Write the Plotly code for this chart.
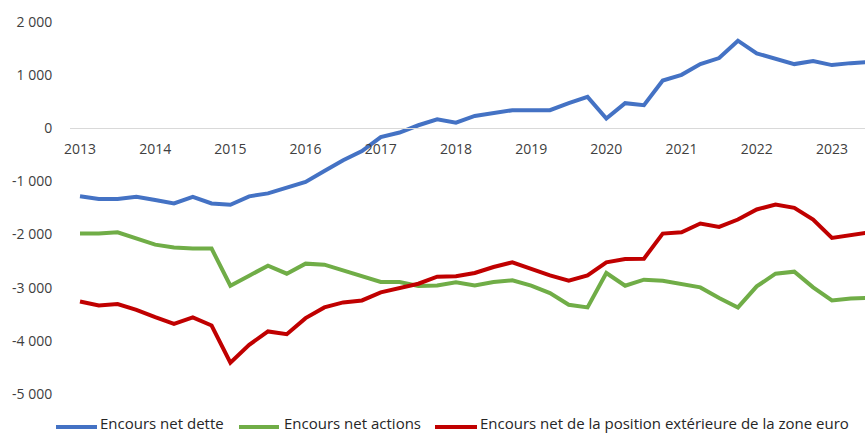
import plotly.graph_objects as go

# ---- data ----
years = [str(y) for y in range(2013, 2024)]
quarters = [f"{y}T{q}" for y in range(2013, 2024) for q in range(1, 5)][:43]

series_names = [
    "Encours net dette",
    "Encours net actions",
    "Encours net de la position extérieure de la zone euro",
]

dette = [-1280, -1330, -1330, -1290, -1350, -1415, -1290, -1415, -1440, -1280,
         -1225, -1120, -1010, -805, -600, -430, -165, -80, 57, 170,
         107, 232, 277, 340, 340, 340, 472, 590, 183, 472,
         434, 900, 1006, 1208, 1321, 1648, 1409, 1315, 1208, 1264,
         1189, 1226, 1250]

actions = [-1981, -1981, -1956, -2082, -2189, -2245, -2264, -2264, -2962, -2774,
           -2585, -2736, -2547, -2566, -2673, -2786, -2893, -2893, -2969, -2960,
           -2899, -2956, -2893, -2862, -2962, -3101, -3321, -3371, -2723, -2962,
           -2849, -2868, -2925, -2994, -3195, -3371, -2975, -2736, -2698, -2994,
           -3239, -3201, -3190]

position = [-3258, -3333, -3308, -3415, -3553, -3679, -3560, -3711, -4409, -4075,
            -3823, -3874, -3572, -3371, -3277, -3239, -3088, -3006, -2925, -2792,
            -2786, -2723, -2610, -2522, -2648, -2767, -2868, -2767, -2522, -2459,
            -2453, -1981, -1956, -1792, -1855, -1717, -1528, -1434, -1497, -1717,
            -2063, -2013, -1956]

y_tickvals = [-5000, -4000, -3000, -2000, -1000, 0, 1000, 2000]
y_ticktext = ["-5 000", "-4 000", "-3 000", "-2 000", "-1 000", "0", "1 000", "2 000"]

# ---- styling ----
colors = ["#4472C4", "#70AD47", "#C00000"]
FONT = "Open Sans"
W, H = 865, 434
ML, MR, MT, MB = 70, 0, 22, 40
PW, PH = W - ML - MR, H - MT - MB

def px_x(px):
    return (px - ML) / PW

def px_y(py):
    return (H - MB - py) / PH

fig = go.Figure()
for name, vals, col in zip(series_names, [dette, actions, position], colors):
    fig.add_trace(go.Scatter(x=quarters, y=vals, mode="lines", name=name,
                             line=dict(color=col, width=4), showlegend=False))

year_ticks = [q for q in quarters if q.endswith("T1")]

fig.update_layout(
    width=W, height=H,
    margin=dict(l=ML, r=MR, t=MT, b=MB),
    paper_bgcolor="white", plot_bgcolor="white",
    font=dict(family=FONT, size=14, color="#404040"),
    xaxis=dict(
        type="category", range=[-0.532, 41.76],
        tickvals=year_ticks, ticktext=years[:len(year_ticks)],
        showgrid=False, zeroline=False,
        showline=True, linecolor="#d9d9d9", linewidth=1,
        anchor="free", position=5 / 7,
        ticks="outside", ticklen=8, tickcolor="rgba(0,0,0,0)",
        tickfont=dict(family=FONT, size=14, color="#404040"),
    ),
    yaxis=dict(
        range=[-5000, 2000], tickvals=y_tickvals, ticktext=y_ticktext,
        showgrid=False, zeroline=False, showline=False,
        ticks="outside", ticklen=14, tickcolor="rgba(0,0,0,0)",
        tickfont=dict(family=FONT, size=14, color="#404040"),
    ),
    showlegend=False,
)

# manual legend
legend_items = [(56, 97, 98), (239, 279, 282), (435, 477, 478)]
ly_line = px_y(427)
ly_text = px_y(423)
for (x0, x1, tx), name, col in zip(legend_items, series_names, colors):
    fig.add_shape(type="line", xref="paper", yref="paper",
                  x0=px_x(x0), x1=px_x(x1), y0=ly_line, y1=ly_line,
                  line=dict(color=col, width=4))
    fig.add_annotation(xref="paper", yref="paper", x=px_x(tx), y=ly_text,
                       text=name, showarrow=False, xanchor="left", yanchor="middle",
                       font=dict(family=FONT, size=15, color="#262626"))

fig.write_html("out.html", config={"displayModeBar": False},
               post_script="document.body.style.margin='0';")
